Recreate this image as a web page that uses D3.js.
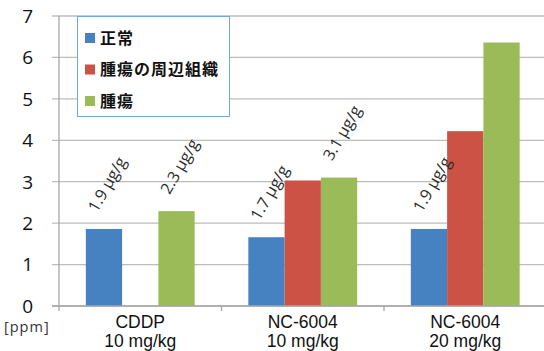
<!DOCTYPE html>
<html>
<head>
<meta charset="utf-8">
<script src="https://cdn.jsdelivr.net/npm/d3@7"></script>
<style>
  body { margin: 0; background: #fff; }
  svg { display: block; }
</style>
</head>
<body>
<svg width="544" height="351"></svg>
<script>
// data
const categories = ['CDDP 10', 'NC-6004 10', 'NC-6004 20'];
const catLine1 = ['CDDP', 'NC-6004', 'NC-6004'];
const catLine2 = ['10 mg/kg', '10 mg/kg', '20 mg/kg'];
const seriesNames = ['正常', '腫瘍の周辺組織', '腫瘍'];
const normal = [1.86, 1.66, 1.86];
const periTumor = [null, 3.03, 4.22];
const tumor = [2.29, 3.10, 6.36];
const normalNotes = ['1.9 µg/g', '1.7 µg/g', '1.9 µg/g'];
const tumorNotes = ['2.3 µg/g', '3.1 µg/g', null];
const yTicks = [0, 1, 2, 3, 4, 5, 6, 7];
const colors = ['#4681c1', '#cc5246', '#9bbb59'];

const svg = d3.select('svg');
const plotLeft = 59, plotRight = 546.5, plotTop = 16, plotBottom = 306;

const x0 = d3.scaleBand().domain(categories).range([plotLeft, plotRight]);
const x1 = d3.scaleBand().domain(seriesNames).range([0, x0.bandwidth()])
  .paddingInner(0).paddingOuter(0.74);
const y = d3.scaleLinear().domain([0, 7]).range([plotBottom, plotTop]);

const values = [normal, periTumor, tumor];
const bars = [];
categories.forEach((c, i) => {
  seriesNames.forEach((s, j) => {
    if (values[j][i] != null) bars.push({ c, s, j, v: values[j][i] });
  });
});

// gridlines + y ticks
svg.append('g').selectAll('line.grid')
  .data(yTicks)
  .enter().append('line')
    .attr('class', 'grid')
    .attr('x1', plotLeft - 7)
    .attr('x2', 544)
    .attr('y1', d => y(d))
    .attr('y2', d => y(d))
    .attr('stroke', '#bcbcbc')
    .attr('stroke-width', 1.3);

svg.append('g').selectAll('text')
  .data(yTicks)
  .enter().append('text')
    .attr('x', 33)
    .attr('y', d => y(d))
    .attr('dy', '0.36em')
    .attr('text-anchor', 'end')
    .attr('font-family', 'Open Sans, sans-serif')
    .attr('font-size', 19)
    .attr('fill', '#111')
    .text(d => d);

// axes lines
svg.append('line')
  .attr('x1', plotLeft).attr('x2', plotLeft)
  .attr('y1', plotTop).attr('y2', plotBottom + 5)
  .attr('stroke', '#a6a6a6').attr('stroke-width', 1.3);

svg.append('g').selectAll('line')
  .data(categories.slice(1))
  .enter().append('line')
    .attr('x1', d => x0(d)).attr('x2', d => x0(d))
    .attr('y1', plotBottom).attr('y2', plotBottom + 5)
    .attr('stroke', '#a6a6a6').attr('stroke-width', 1.3);

// bars
svg.append('g').selectAll('rect')
  .data(bars)
  .enter().append('rect')
    .attr('x', d => x0(d.c) + x1(d.s))
    .attr('y', d => y(d.v))
    .attr('width', x1.bandwidth())
    .attr('height', d => y(0) - y(d.v))
    .attr('fill', d => colors[d.j]);

// rotated value notes
const notes = [];
categories.forEach((c, i) => {
  if (normalNotes[i]) notes.push({ c, s: seriesNames[0], v: normal[i], t: normalNotes[i] });
  if (tumorNotes[i]) notes.push({ c, s: seriesNames[2], v: tumor[i], t: tumorNotes[i] });
});

svg.append('g').selectAll('text')
  .data(notes)
  .enter().append('text')
    .attr('transform', d => {
      const cx = x0(d.c) + x1(d.s) + x1.bandwidth() / 2 - 7;
      const cy = y(d.v) - 16;
      return `translate(${cx},${cy}) rotate(-60)`;
    })
    .attr('font-family', 'Open Sans, sans-serif')
    .attr('font-size', 16)
    .attr('fill', '#2a2a2a')
    .text(d => d.t);

svg.append('line')
  .attr('x1', plotLeft - 7).attr('x2', 544)
  .attr('y1', plotBottom).attr('y2', plotBottom)
  .attr('stroke', '#a6a6a6').attr('stroke-width', 1.3);

// category labels
const cat = svg.append('g').selectAll('text')
  .data(categories)
  .enter().append('text')
    .attr('text-anchor', 'middle')
    .attr('font-family', 'Liberation Sans, Arial, sans-serif')
    .attr('font-size', 17.5)
    .attr('fill', '#111');
cat.append('tspan')
  .attr('x', d => x0(d) + x0.bandwidth() / 2)
  .attr('y', 328)
  .text((d, i) => catLine1[i]);
cat.append('tspan')
  .attr('x', d => x0(d) + x0.bandwidth() / 2)
  .attr('y', 346.5)
  .text((d, i) => catLine2[i]);

svg.append('text')
  .attr('x', 4).attr('y', 332)
  .attr('font-family', 'Open Sans, sans-serif')
  .attr('font-size', 14.5)
  .attr('letter-spacing', 1)
  .attr('fill', '#333')
  .text('[ppm]');

// legend
const legend = svg.append('g');
legend.append('rect')
  .attr('x', 77.5).attr('y', 16.5)
  .attr('width', 152).attr('height', 100)
  .attr('fill', '#fff')
  .attr('stroke', '#6fa8dc').attr('stroke-width', 1);

const item = legend.selectAll('g.item')
  .data(seriesNames)
  .enter().append('g')
    .attr('class', 'item')
    .attr('transform', (d, i) => `translate(85,${38 + i * 31.5})`);
item.append('rect')
  .attr('y', -5).attr('width', 10).attr('height', 10)
  .attr('fill', (d, i) => colors[i]);
item.append('text')
  .attr('x', 15)
  .attr('dy', '0.36em')
  .attr('font-family', 'Noto Sans CJK JP, sans-serif')
  .attr('font-size', 16)
  .attr('font-weight', 'bold')
  .attr('letter-spacing', 1)
  .attr('fill', '#111')
  .text(d => d);
</script>
</body>
</html>
